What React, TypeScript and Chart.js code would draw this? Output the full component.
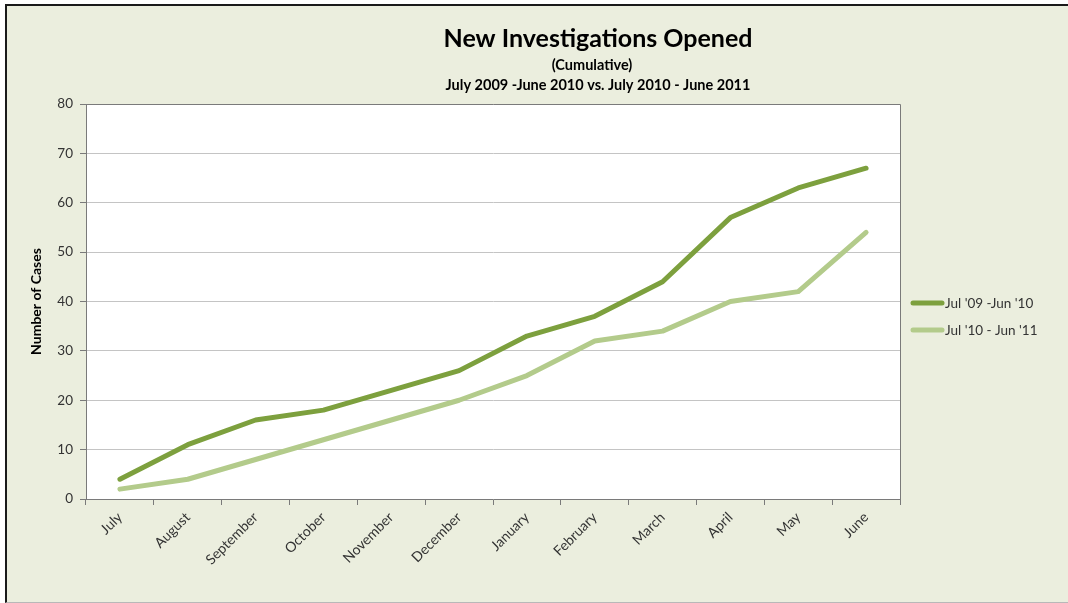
import React, { useEffect, useRef } from "react";
import { Chart, registerables } from "chart.js";

Chart.register(...registerables);

const months = ["July", "August", "September", "October", "November", "December", "January", "February", "March", "April", "May", "June"];
const series0910 = [4, 11, 16, 18, 22, 26, 33, 37, 44, 57, 63, 67];
const series1011 = [2, 4, 8, 12, 16, 20, 25, 32, 34, 40, 42, 54];
const seriesNames = ["Jul '09 -Jun '10", "Jul '10 - Jun '11"];
const seriesColors = ["#7DA03E", "#B3CB8B"];
const titleLines = ["New Investigations Opened", "(Cumulative)", "July 2009 -June 2010 vs. July 2010 - June 2011"];

const FONT = "Lato, 'Open Sans', sans-serif";

export default function App() {
  const ref = useRef<HTMLCanvasElement | null>(null);
  useEffect(() => {
    const canvas = ref.current;
    if (!canvas) return;
    const decor = {
      id: "decor",
      beforeDraw(chart: any) {
        const { ctx, chartArea: a } = chart;
        ctx.save();
        ctx.fillStyle = "#FFFFFF";
        ctx.fillRect(a.left, a.top, a.right - a.left, a.bottom - a.top);
        ctx.restore();
      },
      beforeDatasetsDraw(chart: any) {
        const { ctx, chartArea: a } = chart;
        ctx.save();
        ctx.strokeStyle = "#7a7a7a";
        ctx.lineWidth = 1;
        ctx.beginPath();
        ctx.moveTo(Math.round(a.left) + 0.5, Math.round(a.top) + 0.5);
        ctx.lineTo(Math.round(a.right) + 0.5, Math.round(a.top) + 0.5);
        ctx.lineTo(Math.round(a.right) + 0.5, Math.round(a.bottom) + 0.5);
        ctx.stroke();
        ctx.restore();
      },
      afterDraw(chart: any) {
        const { ctx, chartArea: a } = chart;
        ctx.save();
        ctx.fillStyle = "#000";
        ctx.textAlign = "center";
        ctx.textBaseline = "middle";
        const cx = 591;
        ctx.font = `bold 25px ${FONT}`;
        ctx.fillText(titleLines[0], cx, 33);
        ctx.font = `bold 14.5px ${FONT}`;
        ctx.fillText(titleLines[1], cx - 6, 59);
        ctx.fillText(titleLines[2], cx, 79);
        // legend
        const ys = [297, 324];
        ctx.textAlign = "left";
        ctx.font = `13.5px ${FONT}`;
        seriesNames.forEach((name, i) => {
          ctx.strokeStyle = seriesColors[i];
          ctx.lineWidth = 5;
          ctx.lineCap = "round";
          ctx.beginPath();
          ctx.moveTo(a.right + 13, ys[i]);
          ctx.lineTo(a.right + 42, ys[i]);
          ctx.stroke();
          ctx.fillStyle = "#333";
          ctx.fillText(name, a.right + 45, ys[i] + 1);
        });
        ctx.restore();
      },
    };
    const chart = new Chart(canvas, {
      type: "line",
      data: {
        labels: months,
        datasets: [
          { label: seriesNames[0], data: series0910, borderColor: seriesColors[0], backgroundColor: seriesColors[0] },
          { label: seriesNames[1], data: series1011, borderColor: seriesColors[1], backgroundColor: seriesColors[1] },
        ].map((d) => ({ ...d, borderWidth: 5, pointRadius: 0, tension: 0, borderCapStyle: "round", borderJoinStyle: "round", fill: false })) as any,
      },
      options: {
        animation: false,
        responsive: false,
        layout: { padding: { top: 98, right: 168, bottom: 0, left: 0 } },
        plugins: { legend: { display: false }, title: { display: false }, tooltip: { enabled: false } },
        scales: {
          x: {
            offset: true,
            afterFit: (s: any) => { s.height = 102; },
            grid: { offset: true, drawOnChartArea: false, drawTicks: true, tickLength: 6, tickColor: "#7a7a7a", color: "#7a7a7a" },
            border: { color: "#7a7a7a", width: 1 },
            ticks: { minRotation: 45, maxRotation: 45, padding: 4, color: "#333", font: { family: FONT, size: 14 }, autoSkip: false },
          },
          y: {
            min: 0,
            max: 80,
            afterFit: (s: any) => { s.width = 79; },
            grid: { color: "#C4C4C4", tickColor: "#7a7a7a", tickLength: 6, drawTicks: true },
            border: { color: "#7a7a7a", width: 1 },
            ticks: { stepSize: 10, padding: 7, color: "#333", font: { family: FONT, size: 13.5 } },
            title: { display: true, text: "Number of Cases", color: "#000", font: { family: FONT, size: 14, weight: "bold" }, padding: { top: 21, bottom: 4 } },
          },
        },
      },
      plugins: [decor],
    });
    return () => chart.destroy();
  }, []);
  return (
    <div style={{ position: "fixed", left: 0, top: 0, width: 1068, height: 603, background: "#fff" }}>
      <div style={{ position: "absolute", left: 5, top: 4, width: 1063, height: 596, borderTop: "2px solid #1a1a1a", borderLeft: "2px solid #1a1a1a", borderBottom: "1px solid #b8b8b8", background: "#EBEEDE" }}>
        <canvas ref={ref} width={1061} height={595} style={{ display: "block" }} />
      </div>
    </div>
  );
}
